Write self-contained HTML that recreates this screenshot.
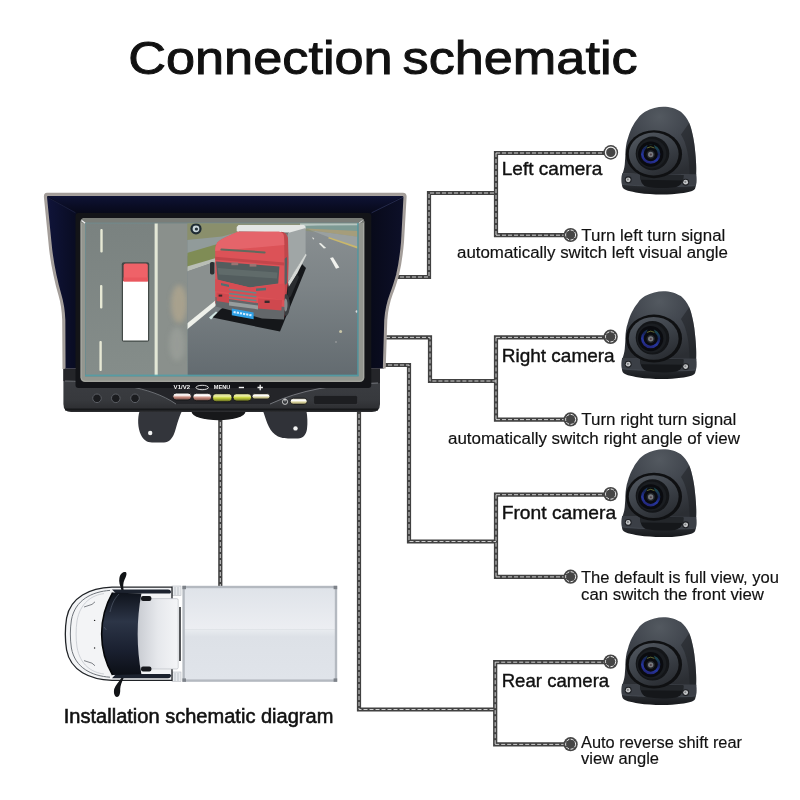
<!DOCTYPE html>
<html><head><meta charset="utf-8">
<style>
html,body{margin:0;padding:0;background:#fff;width:800px;height:800px;overflow:hidden}
svg{display:block}
text{font-family:"Liberation Sans",sans-serif;fill:#111}
.w{fill:none;stroke:#414141;stroke-width:4.2;stroke-linejoin:miter;stroke-linecap:butt}
.d{fill:none;stroke:#f2f2f2;stroke-width:0.8;stroke-dasharray:4 2}
</style></head><body>
<svg width="800" height="800" viewBox="0 0 800 800">
<defs>

<linearGradient id="hoodL" x1="0" x2="1"><stop offset="0" stop-color="#10143a"/><stop offset="1" stop-color="#090c22"/></linearGradient>
<linearGradient id="hoodR" x1="0" x2="1"><stop offset="0" stop-color="#080a1a"/><stop offset="1" stop-color="#0d1029"/></linearGradient>
<linearGradient id="hoodT" x1="0" x2="0" y1="0" y2="1"><stop offset="0" stop-color="#0f1336"/><stop offset="1" stop-color="#070919"/></linearGradient>
<linearGradient id="panel" x1="0" x2="0" y1="0" y2="1"><stop offset="0" stop-color="#3e4045"/><stop offset="0.75" stop-color="#37393d"/><stop offset="1" stop-color="#2a2b2e"/></linearGradient>
<linearGradient id="roadL" x1="0" x2="0" y1="0" y2="1"><stop offset="0" stop-color="#7a8280"/><stop offset="1" stop-color="#858d8a"/></linearGradient>
<linearGradient id="roadR" x1="0" x2="0" y1="0" y2="1"><stop offset="0" stop-color="#8a9092"/><stop offset="0.4" stop-color="#7d8487"/><stop offset="1" stop-color="#636b70"/></linearGradient>
<linearGradient id="btnP" x1="0" x2="0" y1="0" y2="1"><stop offset="0" stop-color="#d8d0cc"/><stop offset="0.3" stop-color="#ffffff"/><stop offset="0.6" stop-color="#c98a7c"/><stop offset="1" stop-color="#6b4a44"/></linearGradient>
<linearGradient id="btnY" x1="0" x2="0" y1="0" y2="1"><stop offset="0" stop-color="#8d8f5a"/><stop offset="0.3" stop-color="#f3f5b0"/><stop offset="0.55" stop-color="#c9d63c"/><stop offset="1" stop-color="#5c6020"/></linearGradient>
<linearGradient id="btnC" x1="0" x2="0" y1="0" y2="1"><stop offset="0" stop-color="#cfcab0"/><stop offset="0.35" stop-color="#ffffff"/><stop offset="0.65" stop-color="#d9d29a"/><stop offset="1" stop-color="#77724f"/></linearGradient>
<filter id="b1" x="-20%" y="-20%" width="140%" height="140%"><feGaussianBlur stdDeviation="0.6"/></filter>
<filter id="b2" x="-30%" y="-30%" width="160%" height="160%"><feGaussianBlur stdDeviation="2.5"/></filter>
<filter id="b3" x="-30%" y="-30%" width="160%" height="160%"><feGaussianBlur stdDeviation="1.2"/></filter>
<clipPath id="scrL"><rect x="86" y="223.5" width="101.5" height="152"/></clipPath>
<clipPath id="scrR"><rect x="187.5" y="223.5" width="170.3" height="152"/></clipPath>

<radialGradient id="dome" cx="0.5" cy="0.15" r="0.85"><stop offset="0" stop-color="#535960"/><stop offset="0.4" stop-color="#434850"/><stop offset="1" stop-color="#2b2e33"/></radialGradient>
<linearGradient id="flange" x1="0" x2="0" y1="0" y2="1"><stop offset="0" stop-color="#3b3f46"/><stop offset="0.5" stop-color="#2a2d32"/><stop offset="1" stop-color="#17191c"/></linearGradient>
<radialGradient id="housing" cx="0.45" cy="0.4" r="0.6"><stop offset="0" stop-color="#15171a"/><stop offset="0.7" stop-color="#1e2125"/><stop offset="1" stop-color="#2a2d33"/></radialGradient>
<radialGradient id="lens" cx="0.5" cy="0.5" r="0.5"><stop offset="0" stop-color="#0a0c14"/><stop offset="0.45" stop-color="#0e1224"/><stop offset="0.7" stop-color="#243a8f"/><stop offset="0.86" stop-color="#1a2358"/><stop offset="1" stop-color="#0b0d16"/></radialGradient>
<g id="cam">
<path d="M422 75 C385 75 340 85 300 108 C280 120 265 135 254 150 C242 165 232 178 225 192 C216 208 209 220 204 233 C197 250 193 262 189 275 C184 292 180 304 177 317 C174 332 172 345 171 358 C170 372 169 386 169 400 C168 425 166 445 165 460 C162 485 157 505 150 522 L641 530 C643 490 642 440 632 350 C628 310 622 280 617 258 C612 235 605 205 595 183 C580 150 560 125 539 108 C510 88 465 75 422 75Z" fill="url(#dome)"/>
<path d="M540 260 C580 320 596 420 598 530 L641 530 C643 490 642 440 632 350 C628 310 622 280 617 258 C612 235 605 205 595 183Z" fill="#1d2024" opacity="0.5"/>
<path d="M148 520 C142 545 142 595 152 615 C160 630 200 640 260 650 C340 662 460 664 540 652 C590 645 625 638 634 620 C643 598 645 560 641 526Z" fill="url(#flange)"/>
<path d="M148 520 L641 526 C643 550 643 580 640 600 C560 612 220 606 147 592 C143 570 144 540 148 520Z" fill="#3b3f46"/>
<path d="M147 592 C220 606 560 612 640 600" fill="none" stroke="#555a62" stroke-width="4" opacity="0.8"/>
<path d="M268 526 L556 530 C556 575 540 604 500 612 C440 620 360 617 312 608 C280 600 268 570 268 526Z" fill="#15171a"/>
<path d="M268 526 L556 530 L555 566 L269 562Z" fill="#23262a"/>
<circle cx="188" cy="562" r="23" fill="#1d1f23"/><circle cx="188" cy="562" r="16" fill="#c6c8ca"/><circle cx="186" cy="560" r="7" fill="#808285"/>
<circle cx="571" cy="578" r="23" fill="#1d1f23"/><circle cx="571" cy="578" r="16" fill="#c6c8ca"/><circle cx="569" cy="576" r="7" fill="#808285"/>
<ellipse cx="360" cy="391" rx="187" ry="160" fill="#0f1012"/>
<ellipse cx="358" cy="390" rx="166" ry="143" fill="url(#rim)"/>
<ellipse cx="350" cy="386" rx="112" ry="112" fill="#131518"/>
<circle cx="344" cy="388" r="98" fill="#1a1d21"/>
<circle cx="338" cy="391" r="84" fill="#0a0b0f"/>
<circle cx="338" cy="391" r="56" fill="none" stroke="url(#blue)" stroke-width="17"/>
<path d="M308 354 L318 328 L358 328 L368 354Z" fill="#0a0b0f"/>
<path d="M313 350 Q338 333 363 350" fill="none" stroke="#8f9e48" stroke-width="5" opacity="0.85"/>
<circle cx="338" cy="393" r="28" fill="#22252a"/><circle cx="338" cy="393" r="18" fill="#777a7f"/><circle cx="339" cy="394" r="7" fill="#4f3f47"/>
</g>
<linearGradient id="cargoT" x1="0" x2="0" y1="0" y2="1"><stop offset="0" stop-color="#dfe3e9"/><stop offset="1" stop-color="#eceef2"/></linearGradient>
<linearGradient id="cargoB" x1="0" x2="0" y1="0" y2="1"><stop offset="0" stop-color="#e9ecf0"/><stop offset="0.15" stop-color="#dde1e7"/><stop offset="1" stop-color="#e0e4ea"/></linearGradient>
<linearGradient id="roof" x1="0" x2="1"><stop offset="0" stop-color="#c9ccd2"/><stop offset="0.5" stop-color="#e6e8ec"/><stop offset="1" stop-color="#f4f5f7"/></linearGradient>
<linearGradient id="wsh" x1="0" x2="0" y1="0" y2="1"><stop offset="0" stop-color="#0f131c"/><stop offset="0.35" stop-color="#2c3547"/><stop offset="0.7" stop-color="#1a2030"/><stop offset="1" stop-color="#0c0f16"/></linearGradient>

<linearGradient id="rim" x1="0.2" y1="0" x2="0.75" y2="1"><stop offset="0" stop-color="#50565e"/><stop offset="0.5" stop-color="#3c4148"/><stop offset="1" stop-color="#282b30"/></linearGradient>
<linearGradient id="blue" x1="0.7" y1="0" x2="0.3" y2="1"><stop offset="0" stop-color="#1c4a4e"/><stop offset="0.35" stop-color="#16225a"/><stop offset="0.7" stop-color="#2636a0"/><stop offset="1" stop-color="#23277a"/></linearGradient>
<!--DEFS-->
</defs>
<rect width="800" height="800" fill="#fff"/>
<!--TITLE-->
<g id="title" font-size="46.6" stroke="#111" stroke-width="0.95" opacity="0.999"><text x="128.2" y="73.6" textLength="264.5" lengthAdjust="spacingAndGlyphs">Connection</text><text x="402.6" y="73.6" textLength="235" lengthAdjust="spacingAndGlyphs">schematic</text></g>
<!--WIRES-->
<g id="wires">
<path class="w" d="M394 277H429V193H496 M386 337.4H430V381H496 M382 365H409V541.5H496 M359 408V709.5H495.2 M220.3 416V586 M496 150.9V237.3 M493.9 153H605 M493.9 235.2H566 M496 335.29999999999995V421.7 M493.9 337.4H605 M493.9 419.59999999999997H566 M496 492.59999999999997V579.0 M493.9 494.7H605 M493.9 576.9H566 M495.2 660.1V746.5 M493.09999999999997 662.2H605 M493.09999999999997 744.4000000000001H566"/>
<path class="d" d="M394 277H429V193H496 M386 337.4H430V381H496 M382 365H409V541.5H496 M359 408V709.5H495.2 M220.3 416V586 M496 153V235.2 M496 153H605 M496 235.2H566 M496 337.4V419.59999999999997 M496 337.4H605 M496 419.59999999999997H566 M496 494.7V576.9 M496 494.7H605 M496 576.9H566 M495.2 662.2V744.4000000000001 M495.2 662.2H605 M495.2 744.4000000000001H566"/>
</g>
<g id="dots">
<circle cx="610.8" cy="152.4" r="7.3" fill="#454545"/><circle cx="610.8" cy="152.4" r="5.3" fill="none" stroke="#f4f4f4" stroke-width="1.3"/>
<circle cx="570.6" cy="235" r="7.1" fill="#454545"/><circle cx="570.6" cy="235" r="5" fill="none" stroke="#f0f0f0" stroke-width="1" stroke-dasharray="3.2 1.4"/>
<circle cx="610.6" cy="336.79999999999995" r="7.2" fill="#454545"/><circle cx="610.6" cy="336.79999999999995" r="5.1" fill="none" stroke="#f0f0f0" stroke-width="1" stroke-dasharray="3.3 1.4"/>
<circle cx="570.6" cy="419.4" r="7.1" fill="#454545"/><circle cx="570.6" cy="419.4" r="5" fill="none" stroke="#f0f0f0" stroke-width="1" stroke-dasharray="3.2 1.4"/>
<circle cx="610.6" cy="494.09999999999997" r="7.2" fill="#454545"/><circle cx="610.6" cy="494.09999999999997" r="5.1" fill="none" stroke="#f0f0f0" stroke-width="1" stroke-dasharray="3.3 1.4"/>
<circle cx="570.6" cy="576.7" r="7.1" fill="#454545"/><circle cx="570.6" cy="576.7" r="5" fill="none" stroke="#f0f0f0" stroke-width="1" stroke-dasharray="3.2 1.4"/>
<circle cx="610.6" cy="661.6" r="7.2" fill="#454545"/><circle cx="610.6" cy="661.6" r="5.1" fill="none" stroke="#f0f0f0" stroke-width="1" stroke-dasharray="3.3 1.4"/>
<circle cx="570.6" cy="744.2" r="7.1" fill="#454545"/><circle cx="570.6" cy="744.2" r="5" fill="none" stroke="#f0f0f0" stroke-width="1" stroke-dasharray="3.2 1.4"/>
</g>
<g id="monitor" opacity="0.999">
<!-- mount -->
<ellipse cx="218.5" cy="411.6" rx="27" ry="8.6" fill="#17181a"/>
<path d="M139.6 411 C137.4 418 137.6 428 141 435 C143.4 440 147 442.4 152 442.4 H164 C169 442.4 172 439 174.4 433 C176.6 427 178 419 182 411Z" fill="#33353b"/>
<path d="M263 411 C266 419 268 429 275 434.6 C279 437.8 283 438.4 288 438.4 H298 C303 438.4 306 435 307 429 C307.8 423 307.4 416 306.4 411Z" fill="#303238"/>
<circle cx="150.2" cy="433" r="2.2" fill="#f2f2f2"/><circle cx="295.5" cy="428.4" r="2.2" fill="#f2f2f2"/>
<!-- bottom panel -->
<path d="M63.4 364 H380 V404 Q380 412 372 412 H71 Q63.4 412 63.4 404Z" fill="url(#panel)"/>
<path d="M63.4 364 H380 V383 C335 384 300 390 270 404 H176 C150 386 110 382 63.4 381Z" fill="#242529"/>
<path d="M65 381 C110 382 150 386 176 404" fill="none" stroke="#7a7d83" stroke-width="0.8"/>
<path d="M378 383 C335 384 300 390 270 404" fill="none" stroke="#85888e" stroke-width="0.8"/>
<path d="M65 409.6 H378" stroke="#17181a" stroke-width="2"/>
<!-- hood -->
<path d="M47 192.8 H403 Q406.8 192.8 406.6 197 L404 242 Q402.2 262 399 275 Q395.3 288 392.8 294 Q388.3 306 387.3 320 L385.7 368.4 L62.5 369 L62.2 320 Q61.7 306 58.4 295 Q55.7 286 53.4 275 Q49.7 258 48.4 242 L43.9 197 Q43.7 192.8 47 192.8Z" fill="#a39d99"/>
<path d="M48 195.2 H402 Q404.4 195.2 404.2 197.6 L401.8 242 Q400 262 396.8 275 Q393.4 287 390.6 294 Q386 306 385 320 L383.6 368.2 H64.8 L64.6 320 Q64 306 60.7 295 Q58 286 55.7 275 Q52.1 258 50.7 242 L46.3 197.6 Q46.1 195.2 48 195.2Z" fill="#090b1e"/>
<path d="M46.3 197 L75.5 213 V368.4 H64.8 L64.6 320 Q64 306 60.7 295 Q58 286 55.7 275 Q52.1 258 50.7 242Z" fill="url(#hoodL)"/>
<path d="M404.2 197 L371.3 213 V368.2 H383.6 L385 320 Q386 306 390.6 294 Q393.4 287 396.8 275 Q400 262 401.8 242Z" fill="url(#hoodR)"/>
<path d="M46.6 195.4 H404 L371.3 213 H75.5Z" fill="url(#hoodT)"/>
<path d="M403.6 197 L371.6 212.8" stroke="#2a3056" stroke-width="0.8"/>
<path d="M47 197 L75.5 212.8" stroke="#1d2244" stroke-width="0.8"/>
<path d="M48 195.2 H402 Q404.4 195.2 404.2 197.6 L401.8 242 Q400 262 396.8 275 Q393.4 287 390.6 294 Q386 306 385 320 L383.6 368.2" fill="none" stroke="#a8a29e" stroke-width="1.5"/><path d="M64.8 368.2 L64.6 320 Q64 306 60.7 295 Q58 286 55.7 275 Q52.1 258 50.7 242 L46.3 197.6 Q46.1 195.2 48 195.2" fill="none" stroke="#a8a29e" stroke-width="1.5"/>
<rect x="75.5" y="213" width="295.8" height="175" rx="3" fill="#131418"/>
<!-- bezel -->
<rect x="80.4" y="218" width="284" height="164" rx="4.5" fill="#93968f"/>
<rect x="81.2" y="218.8" width="282.4" height="162.4" rx="3.8" fill="none" stroke="#aeb0aa" stroke-width="0.8"/>
<path d="M85 218 H360 Q364.4 218 364.4 222.4 L358.6 223.4 H85.5 L80.4 222.4 Q80.4 218 85 218Z" fill="#7a7d78"/><path d="M81.5 220.5 l4.5 3.2" stroke="#f2f2f2" stroke-width="1.2"/><path d="M362.5 220.5 l-4 3" stroke="#e2e2e2" stroke-width="0.9"/><rect x="85" y="222.6" width="273.6" height="154" fill="#6f8b8e"/>
<g id="screen">
<rect x="86" y="223.5" width="101.5" height="152" fill="url(#roadL)"/>
<g clip-path="url(#scrL)">
<rect x="157" y="223" width="31" height="153" fill="#8a908c"/>
<ellipse cx="179" cy="304" rx="8" ry="19" fill="#b0a68e" opacity="0.8" filter="url(#b2)"/>
<ellipse cx="177" cy="344" rx="8" ry="17" fill="#a0a49e" opacity="0.6" filter="url(#b2)"/>
<rect x="154.6" y="223" width="3.1" height="153" fill="#e3e7d6"/>
<g fill="#e6e8d4"><rect x="100.3" y="229" width="2.4" height="23.5" rx="1"/><rect x="100" y="285" width="2.4" height="23.5" rx="1"/><rect x="99.4" y="341" width="2.4" height="30" rx="1"/></g>
<rect x="121.8" y="262.3" width="27.4" height="79.5" rx="2" fill="#2e3433" opacity="0.75" filter="url(#b1)"/>
<rect x="123" y="281" width="25" height="59.5" fill="#ffffff"/>
<path d="M123.6 265.5 Q123.6 263.4 125.6 263.4 H145.8 Q147.8 263.4 147.8 265.5 V281.4 H123.6Z" fill="#ef6268"/>
<rect x="123.6" y="277.5" width="24.2" height="3.9" fill="#e9575e"/>
</g>
<g clip-path="url(#scrR)">
<rect x="187.5" y="223.5" width="171" height="152" fill="url(#roadR)"/>
<!-- background -->
<polygon points="187,223 358,223 358,238 300,230 240,232 187,240" fill="#8c9278"/>
<polygon points="187,223 240,223 240,237 187,240" fill="#8a8f6c"/>
<polygon points="187,240 222,236.4 238,232 238,238 187,256" fill="#919b9a"/>
<polygon points="187,253 238,238 238,252 187,268" fill="#7f8c55"/>
<polygon points="187,266.6 216,258 216,261.6 187,271.6" fill="#b9beb6"/>
<polygon points="187,271.6 216,261.6 216,302 187,324" fill="#8a908f"/>
<!-- right bg -->
<polygon points="300,223 358.5,223 358.5,231.4 306,228.8" fill="#7d9a94"/>
<polygon points="300,223 358.5,223 358.5,225.2 318,225.6 300,226" fill="#c4d0cc" opacity="0.8"/>
<polygon points="306,228.6 358.5,231 358.5,237 312,230.4" fill="#a59d7b"/>
<polygon points="310,230.2 358.5,236.8 358.5,247.4 329.5,237.6 314,231.6" fill="#9aa0a0"/>
<polygon points="329,237 358.5,246.8 358.5,248.8 328,238.2" fill="#c9b76c"/>
<!-- road line left -->
<polygon points="187,323.5 216,300 216,305.5 187,329.5" fill="#eef0ea"/>
<polygon points="209,317.5 216,311.5 218,313 211,319.5" fill="#cfe3e0"/>
<!-- lane dashes -->
<polygon points="318.8,243.4 320.8,243 326.2,248 323.8,248.6" fill="#e9ebe6"/>
<polygon points="330,258 333,257.2 339.4,267.6 336,268.8" fill="#f1f2ee"/>
<polygon points="312,237.6 313.2,237.4 314.4,239 313.2,239.4" fill="#dfe1dc"/>
<circle cx="340.6" cy="331.4" r="1.5" fill="#c8c6a8"/><circle cx="356.8" cy="311.5" r="1.2" fill="#ddd"/><circle cx="336" cy="342" r="0.8" fill="#aaa"/>
<!-- shadow -->
<polygon points="212.6,317.6 221,309 300,262 306,268 280,331.6" fill="#15171a"/>
<!-- trailer -->
<polygon points="236.7,227 238.5,225 304,225 305.6,226.6 305.6,229 289.6,233.4 239,232.4 236.7,231" fill="#e3e6e4"/>
<polygon points="239,231.4 289,232.4 289,234.4 239,233.6" fill="#6f7474"/>
<polygon points="288,233 305.6,228 305.6,253.7 296,270 288,282" fill="#a0a6a6"/>
<polygon points="305.6,253.7 306.6,255 297,274 289,288 288,282" fill="#d5d8d5"/>
<polygon points="288,288 297,274 299,277 291,296 287,300" fill="#2a2d30"/>
<!-- cab side -->
<path d="M281 231.8 Q286.5 232.2 288 238 L288.6 262 L288 282 L286 300 L284 318 L278 318 L279 240Z" fill="#bf474b"/>
<polygon points="279.4,262 287,257 287,283 282,288 279.4,284" fill="#585f62"/>
<!-- wheel -->
<ellipse cx="286" cy="305" rx="3.8" ry="11" fill="#3a3d40"/><ellipse cx="285.6" cy="305" rx="1.9" ry="6.5" fill="#858b8d"/>
<!-- cab front -->
<path d="M215.2 303.4 V249.4 Q215.6 243.6 219.4 240.8 Q224 237.6 238 231.8 H279 Q283.6 232 284 237 L284.6 262 L284.4 300 L284 318Z" fill="#dc5257"/>
<path d="M215.2 258 V249.4 Q215.6 243.6 219.4 240.8 Q224 237.6 238 231.8 H279 Q283.6 232 284 237 L284.4 245 L215.2 251Z" fill="#e5646a"/>
<!-- visor -->
<path d="M221.4 249.6 L264.6 252.4" stroke="#5f6a5e" stroke-width="2" stroke-linecap="round"/>
<!-- below visor band -->
<polygon points="215.2,256.8 284.4,262.6 284.4,265.4 215.2,259.8" fill="#c3464b"/>
<!-- windshield -->
<polygon points="216,261.6 279.4,266.4 278.2,283.6 250,287.4 217.6,280" fill="#535d5e"/>
<polygon points="217.6,268 277.4,272.6 277,278.6 218.6,274.4" fill="#64706f" opacity="0.75"/>
<rect x="231.4" y="262.4" width="6.8" height="2.8" fill="#9a7472"/><rect x="249.6" y="263.8" width="6.8" height="2.8" fill="#9a7472"/>
<!-- mirror -->
<rect x="210" y="262" width="4.4" height="12.4" rx="1.6" fill="#2b3032"/>
<!-- lower front -->
<polygon points="215.2,279 250,287.4 284.6,283.6 284.4,300 215.2,291" fill="#d64d53"/>
<!-- grille -->
<g stroke="#62898a" stroke-width="1.5"><path d="M229 289.6 L256.4 293"/><path d="M229 293.4 L256.4 296.8"/><path d="M229 297.2 L256.4 300.6"/></g>
<polygon points="221,283 229,284.8 229,287 221,285.2" fill="#4f7172"/><polygon points="256,288.6 266,287.8 266,290.2 256,291" fill="#4f7172"/>
<!-- bumper -->
<polygon points="215.4,297 284.4,307 284,319.6 262,318.4 215.6,306.6" fill="#63676a"/>
<polygon points="216.6,292.6 229,294.4 229,303 216.6,301" fill="#cf484e"/><polygon points="258,298.6 282,300 281.4,310.4 258,308.4" fill="#cf484e"/>
<polygon points="229,301.6 258,305.6 258,309.4 229,305.4" fill="#979d9d"/>
<rect x="264.6" y="300.6" width="5" height="2.4" fill="#3a2a2c"/><rect x="218.6" y="294.6" width="3.6" height="2" fill="#3a2a2c"/>
<!-- plate -->
<polygon points="231.8,308.6 253.6,312.4 253.6,319.2 231.8,315.2" fill="#2ea0e6"/>
<path d="M233.6 312 L252 315.4" stroke="#d8efff" stroke-width="2" stroke-dasharray="2.2 1"/>
<!-- icon -->
<circle cx="196" cy="228.8" r="5.6" fill="#1f2b33"/><circle cx="196" cy="228.8" r="3.4" fill="#c8d4d8"/><circle cx="196.4" cy="229" r="1.6" fill="#27333a"/>
</g>
<rect x="85" y="374.6" width="273.6" height="1.6" fill="#4fa0aa" opacity="0.8"/>
<rect x="357" y="223" width="1.6" height="153" fill="#4d98a3" opacity="0.7"/>
</g>
<!-- panel buttons -->
<g fill="#1b1c1f" stroke="#5a5d63" stroke-width="1"><circle cx="97" cy="398.3" r="4.3"/><circle cx="115.8" cy="398.3" r="4.3"/><circle cx="135" cy="398.3" r="4.3"/></g>
<g font-size="5.2" font-weight="bold" style="fill:#f4f4f4"><text x="173.6" y="389.4" style="fill:#f4f4f4" textLength="16.5" lengthAdjust="spacingAndGlyphs">V1/V2</text><text x="213.8" y="389.4" style="fill:#f4f4f4" textLength="16.5" lengthAdjust="spacingAndGlyphs">MENU</text></g>
<ellipse cx="202.2" cy="387.5" rx="6.2" ry="2.2" fill="none" stroke="#f0f0f0" stroke-width="0.9"/>
<rect x="238.8" y="386.8" width="5.2" height="1.4" fill="#f4f4f4"/><path d="M257.5 387.5h5.4M260.2 384.8v5.4" stroke="#f4f4f4" stroke-width="1.3"/>
<g stroke="#151618" stroke-width="0.9">
<rect x="172.8" y="393" width="18.6" height="7" rx="3.4" fill="url(#btnP)"/>
<rect x="192.8" y="393.2" width="18.8" height="7.6" rx="3.7" fill="url(#btnP)"/>
<rect x="212.6" y="393.4" width="19.4" height="8.4" rx="4.1" fill="url(#btnY)"/>
<rect x="233" y="393.4" width="18.6" height="7.8" rx="3.8" fill="url(#btnY)"/>
<rect x="252" y="393.6" width="18" height="5.6" rx="2.8" fill="url(#btnC)"/>
<rect x="290.2" y="398.2" width="17" height="6.2" rx="3" fill="url(#btnC)"/>
</g>
<circle cx="285" cy="401.8" r="2.6" fill="none" stroke="#e8e8e8" stroke-width="0.8"/><path d="M285 398.4v3" stroke="#e8e8e8" stroke-width="0.9"/>
<rect x="313.6" y="395.4" width="44" height="9.2" rx="1.8" fill="#1d1e21" stroke="#3d3f44" stroke-width="0.7"/>
</g>
<g id="cams">
<use href="#cam" transform="translate(600,95.5) scale(0.15)"/>
<use href="#cam" transform="translate(600,279.9) scale(0.15)"/>
<use href="#cam" transform="translate(600,438.1) scale(0.15)"/>
<use href="#cam" transform="translate(600,605.9) scale(0.15)"/>
</g>
<g id="truck">
<!-- cargo -->
<rect x="182.4" y="585.8" width="154.8" height="96" fill="#b4b9c0"/>
<rect x="184.8" y="588.2" width="150" height="41" fill="url(#cargoT)"/>
<rect x="184.8" y="629.2" width="150" height="50.2" fill="url(#cargoB)"/>
<g fill="#7d8289"><rect x="182.4" y="585.8" width="3.6" height="3.4"/><rect x="333.6" y="585.8" width="3.6" height="3.4"/><rect x="182.4" y="678.4" width="3.6" height="3.4"/><rect x="333.6" y="678.4" width="3.6" height="3.4"/></g>
<!-- gap parts -->
<rect x="172" y="586" width="9" height="9.5" fill="#e9ebee" stroke="#b9bdc3" stroke-width="0.6"/><rect x="172" y="672" width="9" height="9.5" fill="#e9ebee" stroke="#b9bdc3" stroke-width="0.6"/>
<path d="M175 587v8M178 587v8M175 673v8M178 673v8" stroke="#aeb2b8" stroke-width="0.7"/>
<rect x="179.2" y="607" width="1.6" height="54" fill="#2a2c30"/>
<!-- cab body -->
<path d="M172 587.2 H112 C90 588 70.5 597 66.6 618 C65 628 65 640 66.6 650 C70.5 671 90 679.4 112 680.4 H172Z" fill="#f3f4f6" stroke="#1f2226" stroke-width="1.3"/>
<path d="M110 590.4 C92 591.6 75 600 71.4 620 C70 629 70 639 71.4 648 C75 668 92 676 110 677.2" fill="none" stroke="#6f747b" stroke-width="1"/>
<path d="M104 593.6 C92 595 80 603 77 621 C75.8 629 75.8 639 77 647 C80 665 92 672.6 104 674" fill="none" stroke="#c4c8ce" stroke-width="0.8"/>
<path d="M84 607 l8 -2.6 l3 -2.6 M84 660.6 l8 2.6 l3 2.6" fill="none" stroke="#4b4f56" stroke-width="0.7"/>
<circle cx="94.6" cy="620.4" r="0.7" fill="#222"/><circle cx="94.6" cy="648" r="0.7" fill="#222"/>
<!-- side windows -->
<path d="M112 589.4 H168 Q171 589.4 171 592.4 L170 593.6 H116Z" fill="#1c222e"/>
<path d="M112 678.2 H168 Q171 678.2 171 675.2 L170 674 H116Z" fill="#1c222e"/>
<!-- roof -->
<rect x="137.6" y="598.6" width="40.6" height="70.4" rx="1.5" fill="url(#roof)" stroke="#b3b7bd" stroke-width="0.6"/>
<!-- windshield -->
<path d="M112.6 592.6 L141.4 593.4 C136.4 620 136.4 648 141.4 674.2 L112.6 675 C98 650 98 618 112.6 592.6Z" fill="url(#wsh)"/>
<path d="M112.6 592.6 C98 618 98 650 112.6 675" fill="none" stroke="#05070a" stroke-width="1.6"/>
<path d="M119 594 C113 600 111.6 606 110 612 M104 627 l2.4 3" stroke="#5a6475" stroke-width="0.6" fill="none"/>
<!-- roof lights -->
<rect x="141" y="596" width="10.4" height="5" rx="2" fill="#15171b"/><rect x="141" y="666.6" width="10.4" height="5" rx="2" fill="#15171b"/>
<!-- mirrors -->
<path d="M121.4 590 C120 585 118.6 582 119.4 578 C120 574 122.6 571.6 125.4 572 C127.4 572.6 126.4 576 124.6 579.4 C123 583 123 586 123.6 590Z" fill="#121417"/>
<path d="M121.4 678 C119 682 115.4 685 114.2 689 C113.4 693 114.4 696.6 117 697 C119.6 697 120.4 693 120.2 689 C120.4 685 122 682 123.6 678Z" fill="#121417"/>
</g>
<g id="labels" opacity="0.999">
<g font-size="19" stroke="#111" stroke-width="0.4">
<text x="501.7" y="175" textLength="100.6" lengthAdjust="spacingAndGlyphs">Left camera</text>
<text x="501.7" y="361.7" textLength="113" lengthAdjust="spacingAndGlyphs">Right camera</text>
<text x="501.7" y="519.2" textLength="114.5" lengthAdjust="spacingAndGlyphs">Front camera</text>
<text x="501.7" y="686.7" textLength="107.5" lengthAdjust="spacingAndGlyphs">Rear camera</text>
<text x="63.8" y="723.1" font-size="19.6" stroke-width="0.55" textLength="269.6" lengthAdjust="spacingAndGlyphs">Installation schematic diagram</text>
</g>
<g font-size="15.8" stroke="#111" stroke-width="0.15">
<text x="581.3" y="240.6" textLength="144" lengthAdjust="spacingAndGlyphs">Turn left turn signal</text>
<text x="457" y="258.1" textLength="271" lengthAdjust="spacingAndGlyphs">automatically switch left visual angle</text>
<text x="581.3" y="425.3" textLength="155" lengthAdjust="spacingAndGlyphs">Turn right turn signal</text>
<text x="448" y="443.6" textLength="292" lengthAdjust="spacingAndGlyphs">automatically switch right angle of view</text>
<text x="581" y="582.8" textLength="198" lengthAdjust="spacingAndGlyphs">The default is full view, you</text>
<text x="581" y="599.9" textLength="183" lengthAdjust="spacingAndGlyphs">can switch the front view</text>
<text x="581" y="747.5" textLength="161" lengthAdjust="spacingAndGlyphs">Auto reverse shift rear</text>
<text x="581" y="764" textLength="78" lengthAdjust="spacingAndGlyphs">view angle</text>
</g>
</g>
</svg>
</body></html>
